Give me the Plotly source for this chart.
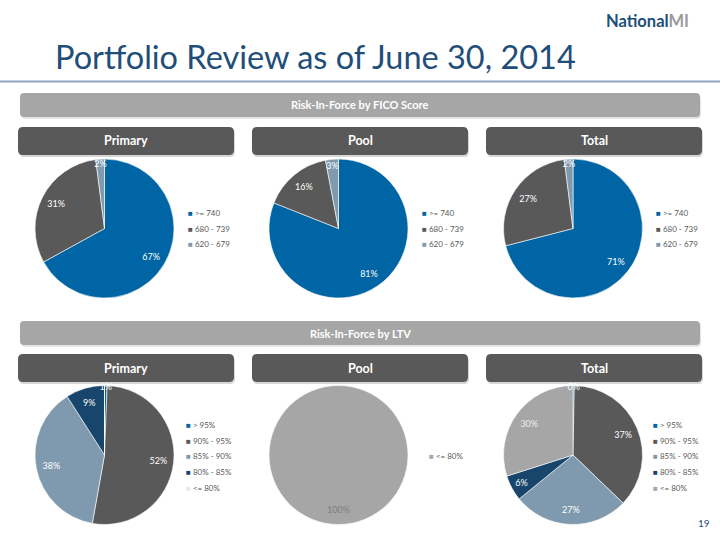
import plotly.graph_objects as go

W, H = 720, 540

# ---------------- data ----------------
fico_labels = [">= 740", "680 - 739", "620 - 679"]
fico_primary = [67, 31, 2]
fico_pool = [81, 16, 3]
fico_total = [71, 27, 2]
fico_colors = ["#0065A4", "#595959", "#7F9AAE"]

ltv_labels = ["> 95%", "90% - 95%", "85% - 90%", "80% - 85%", "<= 80%"]
ltv_primary = [0.6, 52, 38, 9, 0]
ltv_pool_labels = ["<= 80%"]
ltv_pool = [100]
ltv_total = [0.3, 37, 27, 6, 30]
ltv_colors_primary = ["#0065A4", "#595959", "#7F9AAE", "#17456B", "#E6EAF0"]
ltv_colors_pool = ["#A6A6A6"]
ltv_colors_total = ["#0065A4", "#595959", "#7F9AAE", "#17456B", "#A6A6A6"]

section_titles = ["Risk-In-Force by FICO Score", "Risk-In-Force by LTV"]
panel_titles = ["Primary", "Pool", "Total"]

FONT = "Lato"

fig = go.Figure()


def px(x):
    return x / W


def py(y):
    return 1 - y / H


def add_pie(values, labels, colors, cx, cy, r, text_colors, templates):
    domain = dict(x=[px(cx - r), px(cx + r)], y=[py(cy + r), py(cy - r)])
    fig.add_trace(go.Pie(
        values=values, labels=labels, sort=False, direction="clockwise", rotation=0,
        marker=dict(colors=colors, line=dict(color="white", width=0.6)),
        textinfo="none", domain=domain, showlegend=False,
        hoverinfo="label+percent"))
    fig.add_trace(go.Pie(
        values=values, labels=labels, sort=False, direction="clockwise", rotation=0,
        hole=0.56,
        marker=dict(colors=["rgba(0,0,0,0)"] * len(values), line=dict(width=0)),
        texttemplate=templates, textposition="inside",
        insidetextorientation="horizontal",
        textfont=dict(color=text_colors, size=9, family=FONT),
        domain=domain, showlegend=False, hoverinfo="skip"))


def add_legend(labels, colors, x, y0, step=15.7):
    for i, (lab, col) in enumerate(zip(labels, colors)):
        fig.add_annotation(
            x=px(x), y=py(y0 + i * step), xref="paper", yref="paper",
            xanchor="left", yanchor="middle", showarrow=False,
            text=f"<span style='color:{col}'>■</span> {lab}",
            font=dict(size=8, color="#595959", family=FONT))


def rrect(x0, y0, x1, y1, rad, fill):
    rx, ry = rad / W, rad / H
    X0, X1, Y0, Y1 = px(x0), px(x1), py(y0), py(y1)
    path = (f"M{X0+rx},{Y0} L{X1-rx},{Y0} Q{X1},{Y0} {X1},{Y0-ry} "
            f"L{X1},{Y1+ry} Q{X1},{Y1} {X1-rx},{Y1} L{X0+rx},{Y1} "
            f"Q{X0},{Y1} {X0},{Y1+ry} L{X0},{Y0-ry} Q{X0},{Y0} {X0+rx},{Y0} Z")
    fig.add_shape(type="path", path=path, xref="paper", yref="paper",
                  fillcolor=fill, line=dict(width=0), layer="below")


def text(x, y, s, size, color, bold=False, anchor="center", family=FONT):
    fig.add_annotation(x=px(x), y=py(y), xref="paper", yref="paper",
                       xanchor=anchor, yanchor="middle", showarrow=False,
                       text=f"<b>{s}</b>" if bold else s,
                       font=dict(size=size, color=color, family=family))


# ---------------- slide decoration ----------------
text(53, 57, "Portfolio Review as of June 30, 2014", 32.5, "#1F4E79", anchor="left")
fig.add_shape(type="line", x0=0, x1=1, y0=py(81.5), y1=py(81.5), xref="paper", yref="paper",
              line=dict(color="#8EA5BF", width=2))
fig.add_annotation(x=px(604), y=py(21), xref="paper", yref="paper", xanchor="left",
                   yanchor="middle", showarrow=False,
                   text="<b>National</b><b style='color:#9A9A9A'>MI</b>",
                   font=dict(size=16.5, color="#1B4F7C", family=FONT))
text(704, 523, "19", 10, "#1F4E79")

sec_y = [(93, 117), (321, 345)]
panel_x = [(18, 234), (252, 468), (486, 702)]
panel_y = [(127, 155), (354, 382)]
for k in range(2):
    y0, y1 = sec_y[k]
    rrect(21, y0 + 2, 701, y1 + 2, 4, "rgba(0,0,0,0.10)")
    rrect(20, y0, 700, y1, 4, "#A6A6A6")
    text(360, (y0 + y1) / 2, section_titles[k], 11, "white", bold=True)
    for j in range(3):
        x0, x1 = panel_x[j]
        a, b = panel_y[k]
        rrect(x0 + 1, a + 2, x1 + 1, b + 2, 5, "rgba(0,0,0,0.16)")
        rrect(x0, a, x1, b, 5, "#595959")
        text((x0 + x1) / 2, (a + b) / 2, panel_titles[j], 12.5, "white", bold=True)

# ---------------- pies ----------------
R = 69.5
centers_x = [104.5, 338.5, 573]
cy1, cy2 = 228.5, 455
pct = "%{percent:.0%}"

add_pie(fico_primary, fico_labels, fico_colors, centers_x[0], cy1, R, ["white"] * 3, [pct] * 3)
add_pie(fico_pool, fico_labels, fico_colors, centers_x[1], cy1, R, ["white"] * 3, [pct] * 3)
add_pie(fico_total, fico_labels, fico_colors, centers_x[2], cy1, R, ["white"] * 3, [pct] * 3)

add_pie(ltv_primary, ltv_labels, ltv_colors_primary, centers_x[0], cy2, R,
        ["white"] * 5, [pct, pct, pct, pct, ""])
add_pie(ltv_pool, ltv_pool_labels, ltv_colors_pool, centers_x[1], cy2, R,
        ["#7F7F7F"], [pct])
add_pie(ltv_total, ltv_labels, ltv_colors_total, centers_x[2], cy2, R,
        ["white", "white", "white", "white", "#EDEDED"], [pct] * 5)

# ---------------- legends ----------------
add_legend(fico_labels, fico_colors, 186, 213)
add_legend(fico_labels, fico_colors, 420, 213)
add_legend(fico_labels, fico_colors, 654, 213)
add_legend(ltv_labels, ltv_colors_primary, 184, 425)
add_legend(ltv_pool_labels, ltv_colors_pool, 427, 456)
add_legend(ltv_labels, ltv_colors_total, 651, 425)

fig.update_layout(
    width=W, height=H, margin=dict(l=0, r=0, t=0, b=0),
    paper_bgcolor="white", plot_bgcolor="white",
    uniformtext=dict(minsize=9, mode="show"),
    showlegend=False,
)

fig.write_html("out.html", config={"displayModeBar": False},
               post_script="document.body.style.margin='0';document.body.style.overflow='hidden';")
